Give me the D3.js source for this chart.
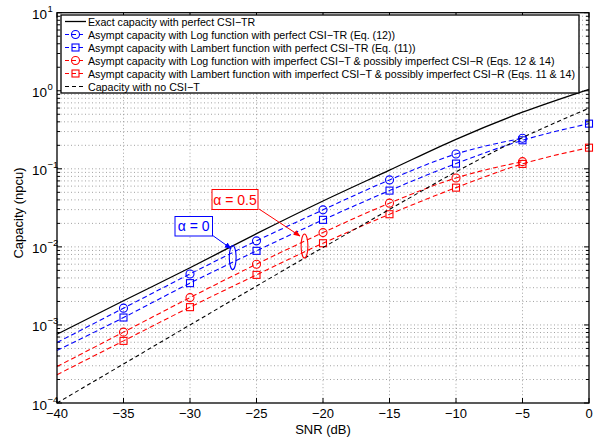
<!DOCTYPE html>
<html><head><meta charset="utf-8">
<script src="https://cdn.jsdelivr.net/npm/d3@7"></script>
<style>body{margin:0;background:#fff}svg{display:block;font-family:"Liberation Sans",Arial,Helvetica,sans-serif}</style>
</head><body><svg id="c" width="600" height="437"></svg>
<script>
// ---- data ----
const snr = [-40, -35, -30, -25, -20, -15, -10, -5, 0];
const exactPerfect = [7.6e-4, 2.04e-3, 5.4e-3, 0.01476, 0.0387, 0.0962, 0.239, 0.531, 1.045];
const noCSIT = [1.0e-4, 3.16e-4, 1.0e-3, 3.15e-3, 9.8e-3, 0.0302, 0.0915, 0.251, 0.596];
const logPerfect = [5.95e-4, 1.64e-3, 4.5e-3, 0.01194, 0.0298, 0.0721, 0.155, 0.2466];
const lambertPerfect = [4.7e-4, 1.245e-3, 3.43e-3, 8.9e-3, 0.0222, 0.0526, 0.1167, 0.232, 0.379];
const logImperfect = [2.93e-4, 8.09e-4, 2.24e-3, 6.0e-3, 0.01524, 0.0363, 0.0764, 0.1236];
const lambertImperfect = [2.3e-4, 6.25e-4, 1.69e-3, 4.38e-3, 0.01114, 0.0262, 0.0574, 0.1156, 0.1866];
const xTicks = [-40, -35, -30, -25, -20, -15, -10, -5, 0];
const yTickExps = [-4, -3, -2, -1, 0, 1];
const legendLabels = [
  "Exact capacity with perfect CSI\u2212TR",
  "Asympt capacity with Log function with perfect CSI\u2212TR (Eq. (12))",
  "Asympt capacity with Lambert function with perfect CSI\u2212TR (Eq. (11))",
  "Asympt capacity with Log function with imperfect CSI\u2212T & possibly imperfect CSI\u2212R  (Eqs. 12 & 14)",
  "Asympt capacity with Lambert function with imperfect CSI\u2212T & possibly imperfect CSI\u2212R  (Eqs. 11 & 14)",
  "Capacity with no CSI\u2212T"
];
const xLabel = "SNR (dB)", yLabel = "Capacity (npcu)";

const series = [
  {vals: exactPerfect, color: "#000", dash: null, marker: null},
  {vals: logPerfect, color: "#0000ff", dash: "5,3", marker: "circle"},
  {vals: lambertPerfect, color: "#0000ff", dash: "5,3", marker: "square"},
  {vals: logImperfect, color: "#ff0000", dash: "5,3", marker: "circle"},
  {vals: lambertImperfect, color: "#ff0000", dash: "5,3", marker: "square"},
  {vals: noCSIT, color: "#000", dash: "4,3", marker: null}
];

const svg = d3.select("#c");
const L = 57, R = 589, T = 12.7, B = 403;
const x = d3.scaleLinear().domain([-40, 0]).range([L, R]);
const y = d3.scaleLog().domain([1e-4, 10]).range([B, T]);

// defs
const defs = svg.append("defs");
[["arrB", "#0000ff"], ["arrR", "#ff0000"]].forEach(([id, c]) => {
  defs.append("marker").attr("id", id).attr("viewBox", "0 0 10 10").attr("refX", 9).attr("refY", 5)
    .attr("markerWidth", 7).attr("markerHeight", 7).attr("orient", "auto")
    .append("path").attr("d", "M0,1 L10,5 L0,9 Z").attr("fill", c);
});

// grid
const g = svg.append("g");
const gridStyle = sel => sel.attr("stroke", "#8a8a8a").attr("stroke-width", 0.8).attr("stroke-dasharray", "1,2.5");
xTicks.slice(1, -1).forEach(v => g.append("line").attr("x1", x(v)).attr("x2", x(v)).attr("y1", T).attr("y2", B).call(gridStyle));
const minorY = [];
for (let e = -4; e < 1; e++) for (let m = 1; m <= 9; m++) minorY.push(m * Math.pow(10, e));
minorY.forEach(v => { if (v > 1e-4) g.append("line").attr("x1", L).attr("x2", R).attr("y1", y(v)).attr("y2", y(v)).call(gridStyle); });

// ticks
const tk = svg.append("g").attr("stroke", "#000").attr("stroke-width", 1);
xTicks.forEach(v => {
  tk.append("line").attr("x1", x(v)).attr("x2", x(v)).attr("y1", B).attr("y2", B - 5);
  tk.append("line").attr("x1", x(v)).attr("x2", x(v)).attr("y1", T).attr("y2", T + 5);
});
minorY.concat([10]).forEach(v => {
  const major = Math.abs(Math.log10(v) - Math.round(Math.log10(v))) < 1e-9;
  const len = major ? 5 : 3;
  tk.append("line").attr("x1", L).attr("x2", L + len).attr("y1", y(v)).attr("y2", y(v));
  tk.append("line").attr("x1", R).attr("x2", R - len).attr("y1", y(v)).attr("y2", y(v));
});

// series
const lineGen = d3.line().x(d => x(d[0])).y(d => y(d[1])).curve(d3.curveMonotoneX);
const plot = svg.append("g");
series.forEach(s => {
  const pts = s.vals.map((v, i) => [snr[i], v]);
  plot.append("path").attr("d", lineGen(pts)).attr("fill", "none").attr("stroke", s.color)
    .attr("stroke-width", s.dash ? 1.1 : 1.3).attr("stroke-dasharray", s.dash);
  if (s.marker) {
    pts.slice(1).forEach(p => drawMarker(plot, s.marker, x(p[0]), y(p[1]), s.color));
  }
});
function drawMarker(sel, type, cx, cy, color) {
  if (type === "circle") sel.append("circle").attr("cx", cx).attr("cy", cy).attr("r", 4)
    .attr("fill", "none").attr("stroke", color).attr("stroke-width", 1.1);
  else sel.append("rect").attr("x", cx - 3.5).attr("y", cy - 3.5).attr("width", 7).attr("height", 7)
    .attr("fill", "none").attr("stroke", color).attr("stroke-width", 1.1);
}

// annotations: ellipses, arrows, boxes
const ann = svg.append("g");
ann.append("ellipse").attr("cx", 232.7).attr("cy", 257.5).attr("rx", 3.4).attr("ry", 12)
  .attr("fill", "none").attr("stroke", "#0000ff").attr("stroke-width", 1.1);
ann.append("ellipse").attr("cx", 304.5).attr("cy", 246).attr("rx", 3.4).attr("ry", 12)
  .attr("fill", "none").attr("stroke", "#ff0000").attr("stroke-width", 1.1);
ann.append("line").attr("x1", 212).attr("y1", 235).attr("x2", 231).attr("y2", 248.5)
  .attr("stroke", "#0000ff").attr("stroke-width", 1).attr("marker-end", "url(#arrB)");
ann.append("line").attr("x1", 259).attr("y1", 209).attr("x2", 300).attr("y2", 236)
  .attr("stroke", "#ff0000").attr("stroke-width", 1).attr("marker-end", "url(#arrR)");
ann.append("rect").attr("x", 175).attr("y", 216.5).attr("width", 37.5).attr("height", 19.5)
  .attr("fill", "#fff").attr("stroke", "#0000ff").attr("stroke-width", 1);
ann.append("text").attr("x", 193.7).attr("y", 231).attr("text-anchor", "middle").attr("font-size", 14)
  .attr("fill", "#0000ff").text("\u03b1 = 0");
ann.append("rect").attr("x", 212).attr("y", 189.5).attr("width", 46).attr("height", 20)
  .attr("fill", "#fff").attr("stroke", "#ff0000").attr("stroke-width", 1);
ann.append("text").attr("x", 235).attr("y", 204.5).attr("text-anchor", "middle").attr("font-size", 14)
  .attr("fill", "#ff0000").text("\u03b1 = 0.5");

// axes box
svg.append("rect").attr("x", L).attr("y", T).attr("width", R - L).attr("height", B - T)
  .attr("fill", "none").attr("stroke", "#000").attr("stroke-width", 1.3);

// tick labels
const lab = svg.append("g").attr("font-size", 13).attr("fill", "#000");
xTicks.forEach(v => lab.append("text").attr("x", x(v)).attr("y", 418).attr("text-anchor", "middle")
  .text(v < 0 ? "\u2212" + Math.abs(v) : String(v)));
yTickExps.forEach(e => {
  const yy = y(Math.pow(10, e));
  lab.append("text").attr("x", 47).attr("y", yy + 6.5).attr("text-anchor", "end").attr("font-size", 13.5).text("10");
  lab.append("text").attr("x", 47.5).attr("y", yy - 0.5).attr("font-size", 9.5)
    .text(e < 0 ? "\u2212" + Math.abs(e) : String(e));
});
lab.append("text").attr("x", (L + R) / 2).attr("y", 434).attr("text-anchor", "middle").text(xLabel);
lab.append("text").attr("transform", "translate(23,213) rotate(-90)").attr("text-anchor", "middle").text(yLabel);

// legend
const lg = svg.append("g");
lg.append("rect").attr("x", 61).attr("y", 15).attr("width", 518).attr("height", 78)
  .attr("fill", "#fff").attr("stroke", "#000").attr("stroke-width", 1.3);
const texts = [];
series.forEach((s, i) => {
  const yy = 21.5 + i * 13;
  lg.append("line").attr("x1", 65).attr("x2", 86).attr("y1", yy).attr("y2", yy).attr("stroke", s.color)
    .attr("stroke-width", s.dash ? 1.1 : 1.3).attr("stroke-dasharray", s.dash ? "4,3" : null);
  if (s.marker) drawMarker(lg, s.marker, 75.5, yy, s.color);
  texts.push(lg.append("text").attr("x", 88).attr("y", yy + 4).attr("font-size", 11).text(legendLabels[i]));
});
// fit longest legend entry to the box width
const longest = d3.max(texts, t => t.node().getComputedTextLength());
const fs = 11 * 488 / longest;
texts.forEach(t => t.attr("font-size", fs));
</script></body></html>
